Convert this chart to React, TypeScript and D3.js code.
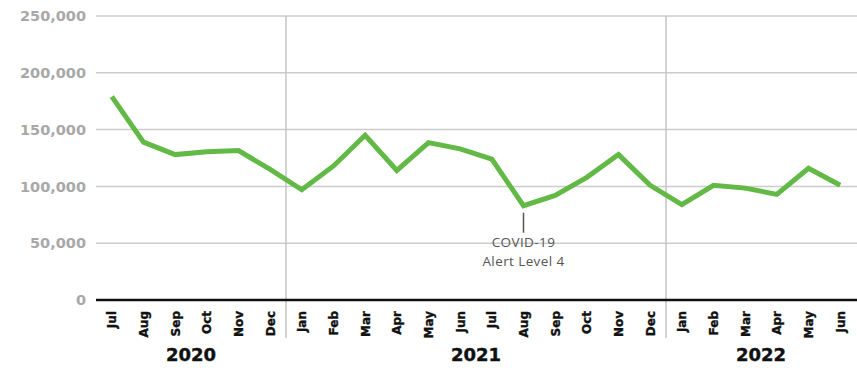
import React from "react";
import * as d3 from "d3";

const months = ["Jul","Aug","Sep","Oct","Nov","Dec","Jan","Feb","Mar","Apr","May","Jun","Jul","Aug","Sep","Oct","Nov","Dec","Jan","Feb","Mar","Apr","May","Jun"];
const years = ["2020","2021","2022"];
const yearOf = [0,0,0,0,0,0,1,1,1,1,1,1,1,1,1,1,1,1,2,2,2,2,2,2];
const values = [179000,139000,128000,130500,131500,115000,97000,118000,145000,114000,138500,133000,124000,83000,92000,108000,128000,101000,84000,101000,98500,93000,116000,101000];
const yTicks = [0,50000,100000,150000,200000,250000];
const annotationIndex = 13;
const annotationLines = ["COVID-19","Alert Level 4"];

const W = 857, H = 368;
const left = 96, right = 856, top = 16, bottom = 300;

export default function App() {
  const keys = months.map((m, i) => `${i}`);
  const x = d3.scaleBand<string>().domain(keys).range([left, right]).padding(0);
  const y = d3.scaleLinear().domain([0, 250000]).range([bottom, top]);
  const cx = (i: number) => (x(`${i}`) as number) + x.bandwidth() / 2;
  const line = d3.line<number>().x((d, i) => cx(i)).y(d => y(d));
  const fmt = d3.format(",");

  const seps: number[] = [];
  for (let i = 1; i < months.length; i++) if (yearOf[i] !== yearOf[i - 1]) seps.push(x(`${i}`) as number);

  const yearCenters = years.map((_, yi) => {
    const idx = yearOf.map((v, i) => (v === yi ? i : -1)).filter(i => i >= 0);
    const a = x(`${idx[0]}`) as number;
    const b = (x(`${idx[idx.length - 1]}`) as number) + x.bandwidth();
    return (a + b) / 2;
  });

  const ax = cx(annotationIndex);
  const ay = y(values[annotationIndex]);
  const bold = "'DejaVu Sans', sans-serif";

  return (
    <svg width={W} height={H} style={{ position: "absolute", left: 0, top: 0, background: "#fff" }}>
      {yTicks.map(t => (
        <g key={t}>
          {t !== 0 && <line x1={left} x2={W} y1={y(t)} y2={y(t)} stroke="#cccccc" strokeWidth={1.5} />}
          <text x={86} y={y(t)} dy="0.36em" textAnchor="end" fontFamily={bold} fontWeight={700} fontSize={14.5} fill="#a8a8a8">{fmt(t)}</text>
        </g>
      ))}
      {seps.map((s, i) => (
        <line key={i} x1={s} x2={s} y1={top} y2={338} stroke="#c4c4c4" strokeWidth={1.5} />
      ))}
      <line x1={left} x2={W} y1={bottom} y2={bottom} stroke="#111" strokeWidth={2.5} />
      {months.map((m, i) => (
        <text key={i} transform={`translate(${cx(i) + 4.5},311) rotate(-90)`} textAnchor="end" fontFamily={bold} fontWeight={700} fontSize={12} fill="#111" stroke="#111" strokeWidth={0.35}>{m}</text>
      ))}
      {years.map((yr, i) => (
        <text key={yr} x={yearCenters[i]} y={361} textAnchor="middle" fontFamily={bold} fontWeight={700} fontSize={18} fill="#111" stroke="#111" strokeWidth={0.4}>{yr}</text>
      ))}
      <path d={line(values) as string} fill="none" stroke="#62b946" strokeWidth={5} strokeLinejoin="miter" strokeLinecap="butt" />
      <line x1={ax} x2={ax} y1={ay + 7} y2={ay + 27} stroke="#555" strokeWidth={1.5} />
      {annotationLines.map((t, i) => (
        <text key={i} x={ax} y={247 + i * 18.5} textAnchor="middle" fontFamily="'Open Sans', sans-serif" fontWeight={400} fontSize={13.5} letterSpacing={0.4} fill="#555">{t}</text>
      ))}
    </svg>
  );
}
